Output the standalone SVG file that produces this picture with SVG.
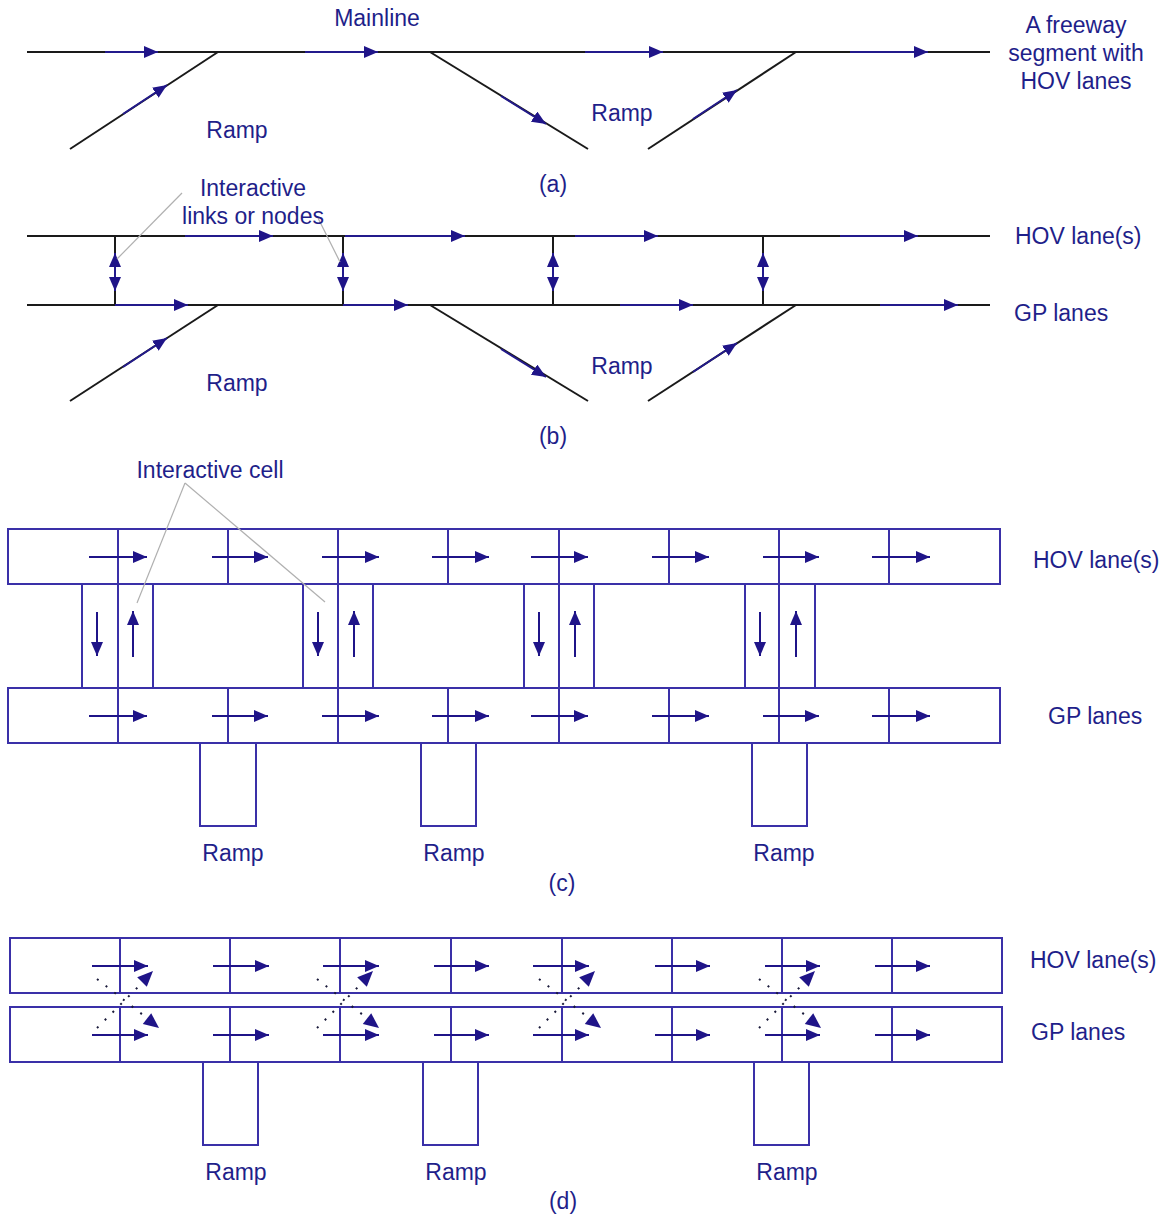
<svg xmlns="http://www.w3.org/2000/svg" width="1165" height="1215" viewBox="0 0 1165 1215">
<style>
.t{font-family:"Liberation Sans",Arial,sans-serif;font-size:23px;fill:#1f1f8a}
.c{text-anchor:middle}
.road{stroke:#1a1a1a;stroke-width:2;fill:none}
.ba{stroke:#231a8c;stroke-width:2;fill:none;marker-end:url(#ah)}
.bd{stroke:#231a8c;stroke-width:2;fill:none;marker-start:url(#ahs);marker-end:url(#ah)}
.cell{stroke:#3a30a8;stroke-width:2;fill:none}
.ca{stroke:#1f1488;stroke-width:2;fill:none;marker-end:url(#ah2)}
.lead{stroke:#b0b0b0;stroke-width:1.2;fill:none}
.dot{stroke:#1a1a3a;stroke-width:2;fill:none;stroke-dasharray:2 9}
.tri{fill:#1f1488}
</style>
<defs>
<marker id="ah" viewBox="0 0 14 12" refX="14" refY="6" markerWidth="14" markerHeight="12" markerUnits="userSpaceOnUse" orient="auto"><path d="M0,0 L14,6 L0,12 z" fill="#1f1488"/></marker>
<marker id="ahs" viewBox="0 0 14 12" refX="0" refY="6" markerWidth="14" markerHeight="12" markerUnits="userSpaceOnUse" orient="auto"><path d="M14,0 L0,6 L14,12 z" fill="#1f1488"/></marker>
<marker id="ah2" viewBox="0 0 14 12" refX="14" refY="6" markerWidth="14" markerHeight="12" markerUnits="userSpaceOnUse" orient="auto"><path d="M0,0 L14,6 L0,12 z" fill="#1f1488"/></marker>
</defs>

<!-- ===== (a) ===== -->
<g id="panel-a">
  <g id="a-mainline"><line class="road" x1="27" y1="52" x2="990" y2="52"/></g>
  <g id="a-ramp1"><line class="road" x1="70" y1="149" x2="218" y2="52"/></g>
  <g id="a-ramp2"><line class="road" x1="430" y1="52" x2="588" y2="149"/></g>
  <g id="a-ramp3"><line class="road" x1="648" y1="149" x2="796" y2="52"/></g>
  <g id="a-connectors">
    <line class="ba" x1="105" y1="52" x2="158" y2="52"/>
    <line class="ba" x1="305" y1="52" x2="378" y2="52"/>
    <line class="ba" x1="585" y1="52" x2="663" y2="52"/>
    <line class="ba" x1="850" y1="52" x2="928" y2="52"/>
    <line class="ba" x1="123" y1="114" x2="167" y2="85"/>
    <line class="ba" x1="501" y1="96" x2="546" y2="124"/>
    <line class="ba" x1="693" y1="119" x2="737" y2="90"/>
  </g>
  <text class="t c" x="377" y="26">Mainline</text>
  <text class="t c" x="237" y="138">Ramp</text>
  <text class="t c" x="622" y="121">Ramp</text>
  <text class="t c" x="553" y="192">(a)</text>
  <text class="t c" x="1076" y="33">A freeway</text>
  <text class="t c" x="1076" y="61">segment with</text>
  <text class="t c" x="1076" y="89">HOV lanes</text>
</g>

<!-- ===== (b) ===== -->
<g id="panel-b">
  <g id="b-hov"><line class="road" x1="27" y1="236" x2="990" y2="236"/></g>
  <g id="b-gp"><line class="road" x1="27" y1="305" x2="990" y2="305"/></g>
  <g id="b-links">
    <line class="road" x1="115" y1="236" x2="115" y2="305"/>
    <line class="road" x1="343" y1="236" x2="343" y2="305"/>
    <line class="road" x1="553" y1="236" x2="553" y2="305"/>
    <line class="road" x1="763" y1="236" x2="763" y2="305"/>
  </g>
  <g id="b-ramp1"><line class="road" x1="70" y1="401" x2="218" y2="305"/></g>
  <g id="b-ramp2"><line class="road" x1="430" y1="305" x2="588" y2="401"/></g>
  <g id="b-ramp3"><line class="road" x1="648" y1="401" x2="796" y2="305"/></g>
  <g id="b-connectors">
    <line class="ba" x1="185" y1="236" x2="273" y2="236"/>
    <line class="ba" x1="345" y1="236" x2="465" y2="236"/>
    <line class="ba" x1="575" y1="236" x2="658" y2="236"/>
    <line class="ba" x1="840" y1="236" x2="918" y2="236"/>
    <line class="ba" x1="115" y1="305" x2="188" y2="305"/>
    <line class="ba" x1="343" y1="305" x2="408" y2="305"/>
    <line class="ba" x1="620" y1="305" x2="693" y2="305"/>
    <line class="ba" x1="880" y1="305" x2="958" y2="305"/>
    <line class="bd" x1="115" y1="253" x2="115" y2="291"/>
    <line class="bd" x1="343" y1="253" x2="343" y2="291"/>
    <line class="bd" x1="553" y1="253" x2="553" y2="291"/>
    <line class="bd" x1="763" y1="253" x2="763" y2="291"/>
    <line class="ba" x1="123" y1="367" x2="167" y2="338"/>
    <line class="ba" x1="501" y1="349" x2="546" y2="377"/>
    <line class="ba" x1="693" y1="372" x2="737" y2="343"/>
  </g>
  <g id="b-leaders">
    <line class="lead" x1="182" y1="193" x2="117" y2="259"/>
    <line class="lead" x1="318" y1="218" x2="340" y2="262"/>
  </g>
  <text class="t c" x="253" y="196">Interactive</text>
  <text class="t c" x="253" y="224">links or nodes</text>
  <text class="t" x="1015" y="244">HOV lane(s)</text>
  <text class="t" x="1014" y="321">GP lanes</text>
  <text class="t c" x="237" y="391">Ramp</text>
  <text class="t c" x="622" y="374">Ramp</text>
  <text class="t c" x="553" y="444">(b)</text>
</g>

<!-- ===== (c) ===== -->
<g id="panel-c">
  <g id="c-hov">
    <rect class="cell" x="8" y="529" width="992" height="55"/>
    <path class="cell" d="M118,529V584M228,529V584M338,529V584M448,529V584M559,529V584M669,529V584M779,529V584M889,529V584"/>
  </g>
  <g id="c-gp">
    <rect class="cell" x="8" y="688" width="992" height="55"/>
    <path class="cell" d="M118,688V743M228,688V743M338,688V743M448,688V743M559,688V743M669,688V743M779,688V743M889,688V743"/>
  </g>
  <g id="c-interactive1"><rect class="cell" x="82" y="584" width="71" height="104"/><line class="cell" x1="118" y1="584" x2="118" y2="688"/></g>
  <g id="c-interactive2"><rect class="cell" x="303" y="584" width="70" height="104"/><line class="cell" x1="338" y1="584" x2="338" y2="688"/></g>
  <g id="c-interactive3"><rect class="cell" x="524" y="584" width="70" height="104"/><line class="cell" x1="559" y1="584" x2="559" y2="688"/></g>
  <g id="c-interactive4"><rect class="cell" x="745" y="584" width="70" height="104"/><line class="cell" x1="779" y1="584" x2="779" y2="688"/></g>
  <g id="c-ramp1"><path class="cell" d="M200,743V826H256V743"/></g>
  <g id="c-ramp2"><path class="cell" d="M421,743V826H476V743"/></g>
  <g id="c-ramp3"><path class="cell" d="M752,743V826H807V743"/></g>
  <g id="c-connectors">
    <path class="ca" d="M89,557H147"/><path class="ca" d="M212,557H268"/><path class="ca" d="M322,557H379"/><path class="ca" d="M432,557H489"/>
    <path class="ca" d="M531,557H588"/><path class="ca" d="M652,557H709"/><path class="ca" d="M763,557H819"/><path class="ca" d="M872,557H930"/>
    <path class="ca" d="M89,716H147"/><path class="ca" d="M212,716H268"/><path class="ca" d="M322,716H379"/><path class="ca" d="M432,716H489"/>
    <path class="ca" d="M531,716H588"/><path class="ca" d="M652,716H709"/><path class="ca" d="M763,716H819"/><path class="ca" d="M872,716H930"/>
    <path class="ca" d="M97,612V656"/><path class="ca" d="M133,657V611"/>
    <path class="ca" d="M318,612V656"/><path class="ca" d="M354,657V611"/>
    <path class="ca" d="M539,612V656"/><path class="ca" d="M575,657V611"/>
    <path class="ca" d="M760,612V656"/><path class="ca" d="M796,657V611"/>
  </g>
  <g id="c-leaders">
    <line class="lead" x1="185" y1="483" x2="137" y2="603"/>
    <line class="lead" x1="185" y1="483" x2="325" y2="602"/>
  </g>
  <text class="t c" x="210" y="478">Interactive cell</text>
  <text class="t" x="1033" y="568">HOV lane(s)</text>
  <text class="t" x="1048" y="724">GP lanes</text>
  <text class="t c" x="233" y="861">Ramp</text>
  <text class="t c" x="454" y="861">Ramp</text>
  <text class="t c" x="784" y="861">Ramp</text>
  <text class="t c" x="562" y="891">(c)</text>
</g>

<!-- ===== (d) ===== -->
<g id="panel-d">
  <g id="d-hov">
    <rect class="cell" x="10" y="938" width="992" height="55"/>
    <path class="cell" d="M120,938V993M230,938V993M340,938V993M451,938V993M562,938V993M672,938V993M782,938V993M892,938V993"/>
  </g>
  <g id="d-gp">
    <rect class="cell" x="10" y="1007" width="992" height="55"/>
    <path class="cell" d="M120,1007V1062M230,1007V1062M340,1007V1062M451,1007V1062M562,1007V1062M672,1007V1062M782,1007V1062M892,1007V1062"/>
  </g>
  <g id="d-ramp1"><path class="cell" d="M203,1062V1145H258V1062"/></g>
  <g id="d-ramp2"><path class="cell" d="M423,1062V1145H478V1062"/></g>
  <g id="d-ramp3"><path class="cell" d="M754,1062V1145H809V1062"/></g>
  <g id="d-connectors">
    <path class="ca" d="M92,966H148"/><path class="ca" d="M213,966H269"/><path class="ca" d="M323,966H379"/><path class="ca" d="M434,966H489"/>
    <path class="ca" d="M533,966H589"/><path class="ca" d="M655,966H710"/><path class="ca" d="M765,966H820"/><path class="ca" d="M875,966H930"/>
    <path class="ca" d="M92,1035H148"/><path class="ca" d="M213,1035H269"/><path class="ca" d="M323,1035H379"/><path class="ca" d="M434,1035H489"/>
    <path class="ca" d="M533,1035H589"/><path class="ca" d="M655,1035H710"/><path class="ca" d="M765,1035H820"/><path class="ca" d="M875,1035H930"/>
    <g id="d-x1" transform="translate(120,0)">
      <line class="dot" x1="-23" y1="1028" x2="19" y2="986"/>
      <polygon class="tri" points="33,971 26.8,986.8 17.2,977.2"/>
      <line class="dot" x1="-23" y1="979" x2="23" y2="1015"/>
      <polygon class="tri" points="39,1028 22.8,1024 31.2,1013.2"/>
    </g>
    <g id="d-x2" transform="translate(340,0)">
      <line class="dot" x1="-23" y1="1028" x2="19" y2="986"/>
      <polygon class="tri" points="33,971 26.8,986.8 17.2,977.2"/>
      <line class="dot" x1="-23" y1="979" x2="23" y2="1015"/>
      <polygon class="tri" points="39,1028 22.8,1024 31.2,1013.2"/>
    </g>
    <g id="d-x3" transform="translate(562,0)">
      <line class="dot" x1="-23" y1="1028" x2="19" y2="986"/>
      <polygon class="tri" points="33,971 26.8,986.8 17.2,977.2"/>
      <line class="dot" x1="-23" y1="979" x2="23" y2="1015"/>
      <polygon class="tri" points="39,1028 22.8,1024 31.2,1013.2"/>
    </g>
    <g id="d-x4" transform="translate(782,0)">
      <line class="dot" x1="-23" y1="1028" x2="19" y2="986"/>
      <polygon class="tri" points="33,971 26.8,986.8 17.2,977.2"/>
      <line class="dot" x1="-23" y1="979" x2="23" y2="1015"/>
      <polygon class="tri" points="39,1028 22.8,1024 31.2,1013.2"/>
    </g>
  </g>
  <text class="t" x="1030" y="968">HOV lane(s)</text>
  <text class="t" x="1031" y="1040">GP lanes</text>
  <text class="t c" x="236" y="1180">Ramp</text>
  <text class="t c" x="456" y="1180">Ramp</text>
  <text class="t c" x="787" y="1180">Ramp</text>
  <text class="t c" x="563" y="1209">(d)</text>
</g>
</svg>
